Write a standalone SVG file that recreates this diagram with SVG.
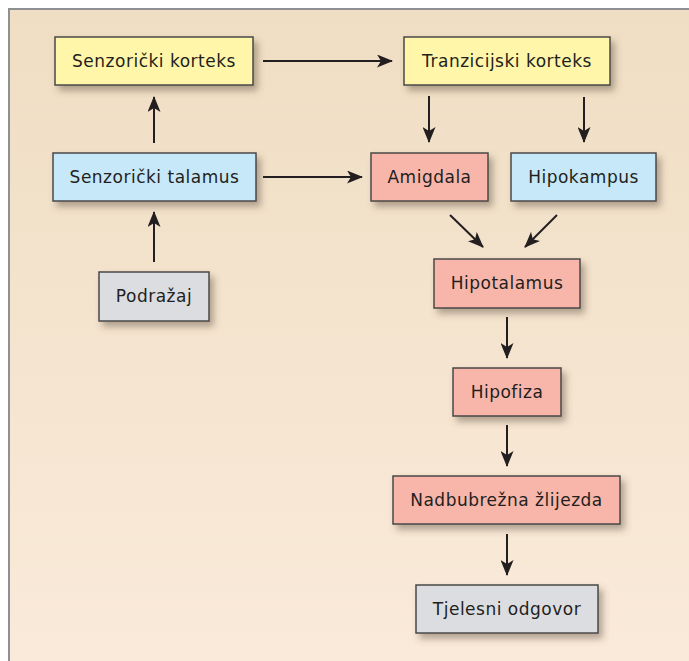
<svg xmlns="http://www.w3.org/2000/svg" width="689" height="661" viewBox="0 0 689 661">
<defs>
<linearGradient id="bg" x1="0" y1="0" x2="0" y2="1">
<stop offset="0" stop-color="#efdec3"/>
<stop offset="1" stop-color="#faeada"/>
</linearGradient>
<filter id="sh" x="-20%" y="-30%" width="150%" height="180%">
<feDropShadow dx="4" dy="5" stdDeviation="3.5" flood-color="#5a4a3a" flood-opacity="0.45"/>
</filter>
<marker id="ah" markerWidth="16" markerHeight="13" refX="15" refY="6.5" orient="auto" markerUnits="userSpaceOnUse">
<path d="M0,0 L16,6.5 L0,13 L4,6.5 Z" fill="#231f20"/>
</marker>
<style>
.box{stroke:#4a4848;stroke-width:1.5;filter:url(#sh)}
.y{fill:#fff6a9}
.b{fill:#c7e8f9}
.p{fill:#f8b6aa}
.g{fill:#dcdde0}
.t{font-family:"DejaVu Sans",sans-serif;font-size:17px;letter-spacing:0.5px;fill:#231f20;text-anchor:middle}
.c{stroke:#231f20;stroke-width:2;fill:none;marker-end:url(#ah)}
</style>
</defs>
<rect x="0" y="0" width="689" height="661" fill="#ffffff"/>
<rect x="9" y="9" width="690" height="662" fill="url(#bg)" stroke="#8e9093" stroke-width="2"/>
<g id="connectors">
<line class="c" x1="263" y1="61" x2="392" y2="61"/>
<line class="c" x1="263" y1="177" x2="362" y2="177"/>
<line class="c" x1="154" y1="143" x2="154" y2="97"/>
<line class="c" x1="154" y1="262" x2="154" y2="212"/>
<line class="c" x1="429" y1="96" x2="429" y2="142"/>
<line class="c" x1="584" y1="97" x2="584" y2="142"/>
<line class="c" x1="450" y1="215" x2="483" y2="247"/>
<line class="c" x1="557" y1="215" x2="525" y2="247"/>
<line class="c" x1="507" y1="317" x2="507" y2="358"/>
<line class="c" x1="507" y1="425" x2="507" y2="466"/>
<line class="c" x1="507" y1="534" x2="507" y2="575"/>
</g>
<g id="senzoricki-korteks"><rect class="box y" x="55" y="37" width="198" height="48"/><text class="t" x="154" y="67">Senzorički korteks</text></g>
<g id="tranzicijski-korteks"><rect class="box y" x="404" y="37" width="206" height="48"/><text class="t" x="507" y="67">Tranzicijski korteks</text></g>
<g id="senzoricki-talamus"><rect class="box b" x="53" y="153" width="203" height="48"/><text class="t" x="154.5" y="183">Senzorički talamus</text></g>
<g id="amigdala"><rect class="box p" x="371" y="153" width="117" height="48"/><text class="t" x="429.5" y="183">Amigdala</text></g>
<g id="hipokampus"><rect class="box b" x="511" y="153" width="145" height="48"/><text class="t" x="583.5" y="183">Hipokampus</text></g>
<g id="podrazaj"><rect class="box g" x="99" y="272" width="110" height="49"/><text class="t" x="154" y="302">Podražaj</text></g>
<g id="hipotalamus"><rect class="box p" x="434" y="259" width="146" height="49"/><text class="t" x="507" y="289">Hipotalamus</text></g>
<g id="hipofiza"><rect class="box p" x="453" y="368" width="108" height="48"/><text class="t" x="507" y="398">Hipofiza</text></g>
<g id="nadbubrezna"><rect class="box p" x="393" y="476" width="227" height="48"/><text class="t" x="506.5" y="506">Nadbubrežna žlijezda</text></g>
<g id="tjelesni-odgovor"><rect class="box g" x="416" y="585" width="182" height="48"/><text class="t" x="507" y="615">Tjelesni odgovor</text></g>
</svg>
